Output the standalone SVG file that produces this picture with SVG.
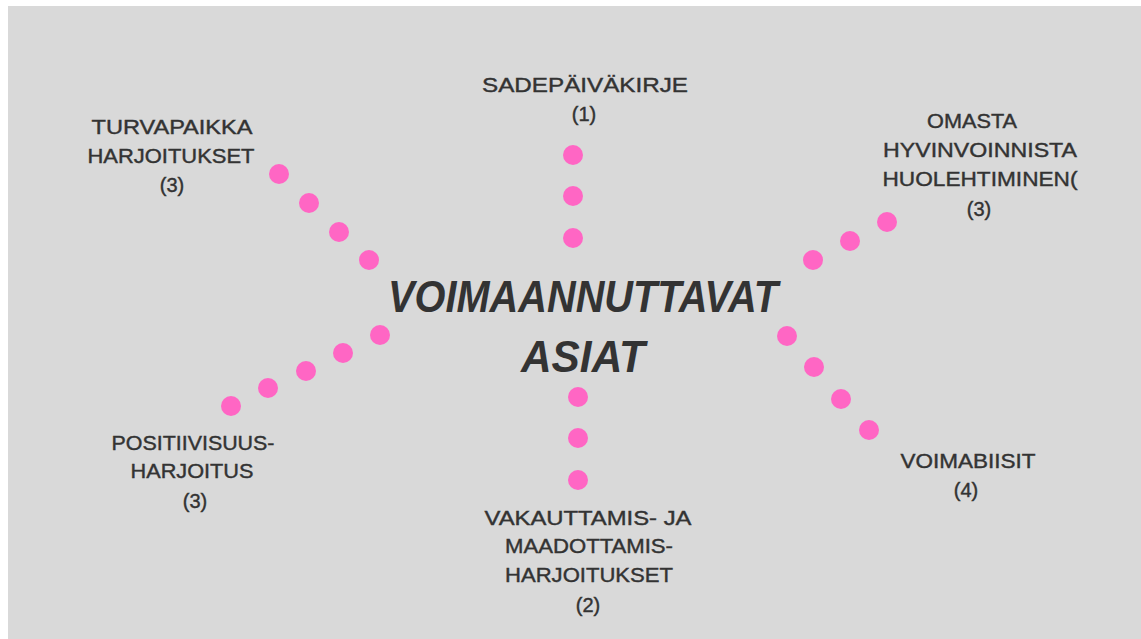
<svg xmlns="http://www.w3.org/2000/svg" width="1141" height="639" viewBox="0 0 1141 639">
<style>
.bg{fill:#d9d9d9}
.dot{fill:#ff66c4}
.lbl{font-family:"Liberation Sans",Arial,sans-serif;font-size:20px;fill:#333333;stroke:#333333;stroke-width:0.4;text-anchor:middle}
.title{font-family:"Liberation Sans",Arial,sans-serif;font-weight:bold;font-style:italic;font-size:45px;fill:#333333;text-anchor:middle}
</style>
<rect x="0" y="0" width="1141" height="639" fill="#ffffff"/>
<rect class="bg" x="8" y="6" width="1133" height="633"/>
<g id="connectors">
<circle class="dot" cx="573" cy="155" r="10"/>
<circle class="dot" cx="573" cy="196" r="10"/>
<circle class="dot" cx="573" cy="238" r="10"/>
<circle class="dot" cx="279" cy="174" r="10"/>
<circle class="dot" cx="309" cy="203" r="10"/>
<circle class="dot" cx="339" cy="232" r="10"/>
<circle class="dot" cx="369" cy="260" r="10"/>
<circle class="dot" cx="813" cy="260" r="10"/>
<circle class="dot" cx="850" cy="241" r="10"/>
<circle class="dot" cx="887" cy="222" r="10"/>
<circle class="dot" cx="231" cy="406" r="10"/>
<circle class="dot" cx="268" cy="388" r="10"/>
<circle class="dot" cx="306" cy="371" r="10"/>
<circle class="dot" cx="343" cy="353" r="10"/>
<circle class="dot" cx="380" cy="335" r="10"/>
<circle class="dot" cx="578" cy="397" r="10"/>
<circle class="dot" cx="578" cy="438" r="10"/>
<circle class="dot" cx="578" cy="480" r="10"/>
<circle class="dot" cx="787" cy="336" r="10"/>
<circle class="dot" cx="814" cy="367" r="10"/>
<circle class="dot" cx="841" cy="399" r="10"/>
<circle class="dot" cx="869" cy="430" r="10"/>
</g>
<g id="center">
<text class="title" x="583" y="312" textLength="390" lengthAdjust="spacingAndGlyphs">VOIMAANNUTTAVAT</text>
<text class="title" x="583" y="372" textLength="124" lengthAdjust="spacingAndGlyphs">ASIAT</text>
</g>
<g id="n-sadepaivakirje">
<text class="lbl" x="585" y="92" textLength="206" lengthAdjust="spacingAndGlyphs">SADEPÄIVÄKIRJE</text>
<text class="lbl" x="584" y="121">(1)</text>
</g>
<g id="n-turvapaikka">
<text class="lbl" x="172" y="134" textLength="161" lengthAdjust="spacingAndGlyphs">TURVAPAIKKA</text>
<text class="lbl" x="171" y="163" textLength="167" lengthAdjust="spacingAndGlyphs">HARJOITUKSET</text>
<text class="lbl" x="172" y="192">(3)</text>
</g>
<g id="n-omasta">
<text class="lbl" x="972" y="128" textLength="90" lengthAdjust="spacingAndGlyphs">OMASTA</text>
<text class="lbl" x="980" y="157" textLength="194" lengthAdjust="spacingAndGlyphs">HYVINVOINNISTA</text>
<text class="lbl" x="980" y="186" textLength="195" lengthAdjust="spacingAndGlyphs">HUOLEHTIMINEN(</text>
<text class="lbl" x="979" y="216">(3)</text>
</g>
<g id="n-positiivisuus">
<text class="lbl" x="193" y="450" textLength="163" lengthAdjust="spacingAndGlyphs">POSITIIVISUUS-</text>
<text class="lbl" x="192" y="478" textLength="123" lengthAdjust="spacingAndGlyphs">HARJOITUS</text>
<text class="lbl" x="195" y="508">(3)</text>
</g>
<g id="n-vakauttamis">
<text class="lbl" x="588" y="525" textLength="207" lengthAdjust="spacingAndGlyphs">VAKAUTTAMIS- JA</text>
<text class="lbl" x="589" y="553" textLength="168" lengthAdjust="spacingAndGlyphs">MAADOTTAMIS-</text>
<text class="lbl" x="589" y="582" textLength="168" lengthAdjust="spacingAndGlyphs">HARJOITUKSET</text>
<text class="lbl" x="588" y="612">(2)</text>
</g>
<g id="n-voimabiisit">
<text class="lbl" x="968" y="468" textLength="135" lengthAdjust="spacingAndGlyphs">VOIMABIISIT</text>
<text class="lbl" x="966" y="497">(4)</text>
</g>
</svg>
